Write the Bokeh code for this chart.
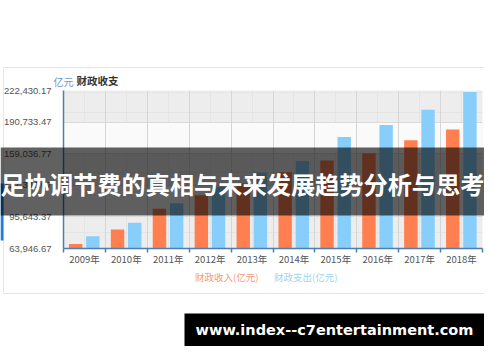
from bokeh.plotting import figure
from bokeh.layouts import column
from bokeh.models import (FactorRange, Range1d, LinearAxis, CategoricalAxis, FixedTicker,
                          NumeralTickFormatter, Grid, Legend, LegendItem, ColumnDataSource)
from bokeh.transform import dodge
from bokeh.core.properties import value
from bokeh.embed import file_html
from bokeh.resources import INLINE

years = ["2009年", "2010年", "2011年", "2012年", "2013年", "2014年", "2015年", "2016年", "2017年", "2018年"]
revenue = [68518, 83102, 103874, 117254, 129210, 140370, 152269, 159605, 172567, 183352]
expenditure = [76300, 89874, 109248, 125953, 140212, 151786, 175878, 187755, 203085, 220904]
y_ticks = [63946.67, 95643.37, 127340.07, 159036.77, 190733.47, 222430.17]

title_text = "财政收支"
unit_text = "亿元"
rev_name = "财政收入(亿元)"
exp_name = "财政支出(亿元)"
banner_text = "足协调节费的真相与未来发展趋势分析与思考"
watermark_text = "www.index--c7entertainment.com"

CJK = "Noto Sans CJK SC"
NUM = "Liberation Sans"
ORANGE = "#ff7f50"
BLUE = "#87cefa"
AXIS = "#4f7ea8"
W, H = 484, 346

boundaries = list(range(len(years) + 1))
src = ColumnDataSource(dict(year=years, rev=revenue, exp=expenditure))

# ---------------- main chart ----------------
p = figure(width=W, height=H, output_backend="svg", toolbar_location=None,
           x_range=FactorRange(factors=years), y_range=Range1d(y_ticks[0], y_ticks[-1]),
           x_axis_location=None, y_axis_location=None,
           min_border_left=62, min_border_right=2, min_border_top=90, min_border_bottom=98)
p.frame_align = False
p.outline_line_color = None
p.background_fill_color = "#ededed"
p.border_fill_color = "white"

yax = LinearAxis(ticker=FixedTicker(ticks=y_ticks), formatter=NumeralTickFormatter(format="0,0.00"),
                 axis_line_color=AXIS, axis_line_width=1.5, major_tick_line_color=None,
                 minor_tick_line_color=None, major_label_text_font=NUM,
                 major_label_text_font_size="9.5px", major_label_text_color="#555555",
                 major_label_standoff=6)
p.add_layout(yax, "left")

bax = LinearAxis(ticker=FixedTicker(ticks=boundaries),
                 major_label_overrides={b: "" for b in boundaries},
                 axis_line_color=AXIS, axis_line_width=1.5, major_tick_line_color=AXIS,
                 major_tick_line_width=1.5, major_tick_out=4, major_tick_in=0,
                 minor_tick_line_color=None, major_label_text_font_size="1px",
                 major_label_standoff=0)
p.add_layout(bax, "below")

cax = CategoricalAxis(axis_line_color=None, major_tick_line_color=None, minor_tick_line_color=None,
                      major_label_text_font=CJK, major_label_text_font_size="9.5px",
                      major_label_text_color="#555555", major_label_standoff=-7)
p.add_layout(cax, "below")

p.add_layout(Grid(dimension=1, ticker=FixedTicker(ticks=y_ticks), grid_line_color="#dadada",
                  band_fill_color="#fafafa", band_fill_alpha=1.0))
p.add_layout(Grid(dimension=0, ticker=FixedTicker(ticks=boundaries), grid_line_color="#d5d5d5"))

p.vbar(x=dodge("year", -0.21, range=p.x_range), top="rev", bottom=y_ticks[0], width=0.32,
       source=src, fill_color=ORANGE, line_color=None)
p.vbar(x=dodge("year", 0.2, range=p.x_range), top="exp", bottom=y_ticks[0], width=0.32,
       source=src, fill_color=BLUE, line_color=None)

# ---------------- overlay (pixel space, y downward) ----------------
o = figure(width=W, height=H, output_backend="svg", toolbar_location=None,
           x_range=Range1d(0, W), y_range=Range1d(H, 0),
           x_axis_location=None, y_axis_location=None,
           min_border=0, margin=(-H, 0, 0, 0))
o.frame_align = False
o.grid.visible = False
o.outline_line_color = None
o.background_fill_alpha = 0
o.border_fill_alpha = 0

# outer panel border
o.quad(left=[3], right=[W + 10], top=[67], bottom=[293], fill_alpha=0,
       line_color="#e6e6e6", line_width=1)

o.text(x=[53], y=[81], text=[unit_text], text_font=value(CJK), text_font_size="10px",
       text_color="#7598c4", text_baseline="middle")
o.text(x=[76], y=[80], text=[title_text], text_font=value(CJK), text_font_size="10.5px",
       text_color="#333333", text_font_style="bold", text_baseline="middle")

# legend (dummy renderers carry the same colours as the bars)
lr1 = o.vbar(x=[], top=[], width=1, fill_color=ORANGE, line_color=None)
lr2 = o.vbar(x=[], top=[], width=1, fill_color=BLUE, line_color=None)
for item, loc, col in [(LegendItem(label=rev_name, renderers=[lr1]), (183, H - 284), "#f59a74"),
                       (LegendItem(label=exp_name, renderers=[lr2]), (262, H - 284), "#9fd2f3")]:
    lg = Legend(items=[item], location=loc, orientation="horizontal", padding=0, margin=0,
                spacing=0, border_line_color=None, background_fill_alpha=0,
                glyph_width=9, glyph_height=9, label_height=11, label_standoff=3,
                label_text_font=CJK, label_text_font_size="9.5px", label_text_color=col)
    o.add_layout(lg, "center")

# thin blue strip at the left edge
o.quad(left=[0], right=[3], top=[183], bottom=[240], fill_color="#1c7fdc", line_color=None)

# banner
o.quad(left=[0], right=[W], top=[147], bottom=[215], fill_color="black", fill_alpha=0.62,
       line_color=None)
o.text(x=[W / 2], y=[183], text=[banner_text], text_font=value(CJK), text_font_size="24.2px",
       text_font_style="bold", text_color="white", text_align="center", text_baseline="middle")

# watermark
o.quad(left=[W - 300], right=[W], top=[H - 33], bottom=[H], fill_color="black", line_color=None)
o.text(x=[W - 150], y=[H - 16.5], text=[watermark_text], text_font=value("DejaVu Sans"),
       text_font_size="14.5px", text_font_style="bold", text_color="white",
       text_align="center", text_baseline="middle")

layout = column(p, o, spacing=0)
open("out.html", "w").write(file_html(layout, INLINE))
